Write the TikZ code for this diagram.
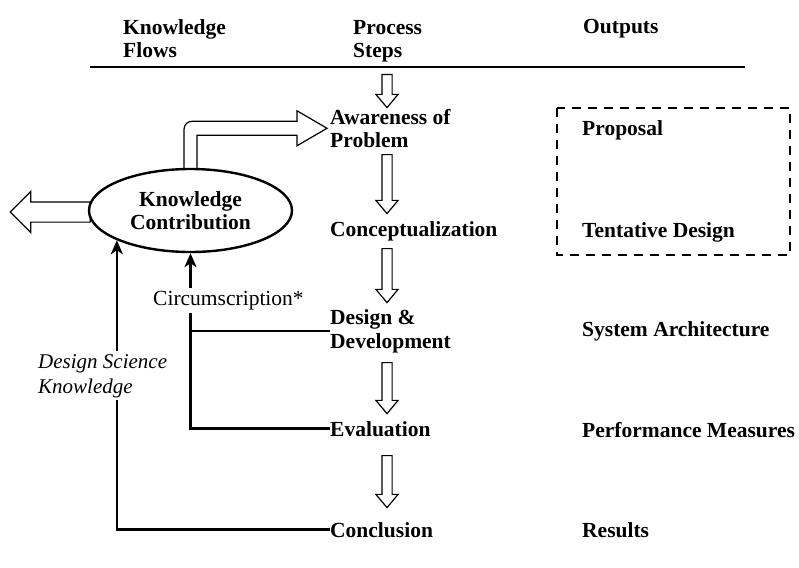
\documentclass[tikz,border=0pt]{standalone}
\usepackage{fontspec}
\setmainfont{Liberation Serif}
\usetikzlibrary{shapes,arrows.meta,calc,backgrounds}

\begin{document}
\begin{tikzpicture}[x=1pt,y=-1pt]
% styles des textes
\tikzstyle{titre}=[anchor=base west,inner sep=0pt,align=left,font=\bfseries\fontsize{21.5}{23.5}\selectfont]
\tikzstyle{etape}=[titre]
\tikzstyle{sortie}=[titre]
\tikzstyle{savoir}=[ellipse,draw,line width=2.4pt,fill=white,minimum width=203pt,minimum height=83pt,inner sep=0pt,align=center,font=\bfseries\fontsize{21.5}{23.5}\selectfont]
\tikzstyle{note}=[anchor=base west,inner sep=3pt,align=left,font=\fontsize{21.5}{25}\selectfont]
% styles des flèches
\tikzstyle{creuse}=[single arrow,draw,fill=white,line width=1.2pt,shape border rotate=270,inner sep=4.5pt,minimum width=21pt,single arrow head extend=6pt,single arrow tip angle=80,anchor=tail]
\tikzstyle{contour}=[draw,fill=white,line width=1.2pt]
\tikzstyle{lien}=[line width=2.4pt]
\tikzstyle{retour}=[lien,-{Stealth[length=14pt,width=12pt,inset=4pt]}]

\useasboundingbox (0,0) rectangle (799,567);

% en-tête
\node[titre] (hsavoir) at (123,58) {Knowledge\\Flows};
\node[titre] (hetapes) at (353,58) {Process\\Steps};
\node[titre] (hsorties) at (583,34) {Outputs};
\draw[line width=1.8pt] (90,67) -- (745,67);

% étapes du processus
\node[etape] (aware) at (330,147.5) {Awareness of\\Problem};
\node[etape] (concept) at (330,236) {Conceptualization};
\node[etape] (design) at (330,348) {Design \&\\Development};
\node[etape] (eval) at (330,436) {Evaluation};
\node[etape] (concl) at (330,537) {Conclusion};

% flèches creuses entre étapes
\node[creuse,minimum height=33pt] (f1) at (387,74) {};
\node[creuse,minimum height=59pt] (f2) at (387,154) {};
\node[creuse,minimum height=54pt] (f3) at (387,248) {};
\node[creuse,minimum height=51pt] (f4) at (387,362) {};
\node[creuse,minimum height=52pt] (f5) at (387,455) {};

% sorties
\node[sortie] (prop) at (582,135) {Proposal};
\node[sortie] (tent) at (582,237) {Tentative Design};
\node[sortie] (archi) at (582,336) {System Architecture};
\node[sortie] (perf) at (582,437) {Performance Measures};
\node[sortie] (res) at (582,537) {Results};
\draw[line width=2.2pt,dash pattern=on 9pt off 7pt] (557,108) rectangle (790,255);

% contribution
\node[savoir] (kc) at (190.5,210.5) {Knowledge\\Contribution};
\node[note] (circ) at (150,305) {Circumscription*};

\begin{scope}[on background layer]
\node[creuse,shape border rotate=180,inner sep=9.5pt,minimum width=40pt,minimum height=80pt,single arrow head extend=10.5pt,single arrow tip angle=90] (fg) at ($(kc.west)+(3,1.5)$) {};
\coordinate (pointe) at ($(aware.west)+(-3,0)$);
\coordinate (g) at ($(kc.center)+(-6.5,0)$);
\coordinate (d) at ($(kc.center)+(6.5,0)$);
\draw[contour] (g) [rounded corners=8pt] -- ($(g |- pointe)+(0,-7)$) [sharp corners]
  -- ($(pointe)+(-30,-7)$) -- ($(pointe)+(-30,-17.5)$) -- (pointe)
  -- ($(pointe)+(-30,17.5)$) -- ($(pointe)+(-30,7)$) -- ($(d |- pointe)+(0,7)$) -- (d);
\end{scope}

% liens de retour
\draw[lien] (eval.west) -| (circ.south -| kc.south);
\draw[lien] (design.west) -- (design.west -| kc.south);
\draw[retour] (circ.north -| kc.south) -- (kc.south);
\draw[retour] (concl.west) -| (kc.202.5);
\node[note,font=\itshape\fontsize{21}{25}\selectfont,fill=white] (dsk) at (35,393) {Design Science\\Knowledge};

\end{tikzpicture}
\end{document}
